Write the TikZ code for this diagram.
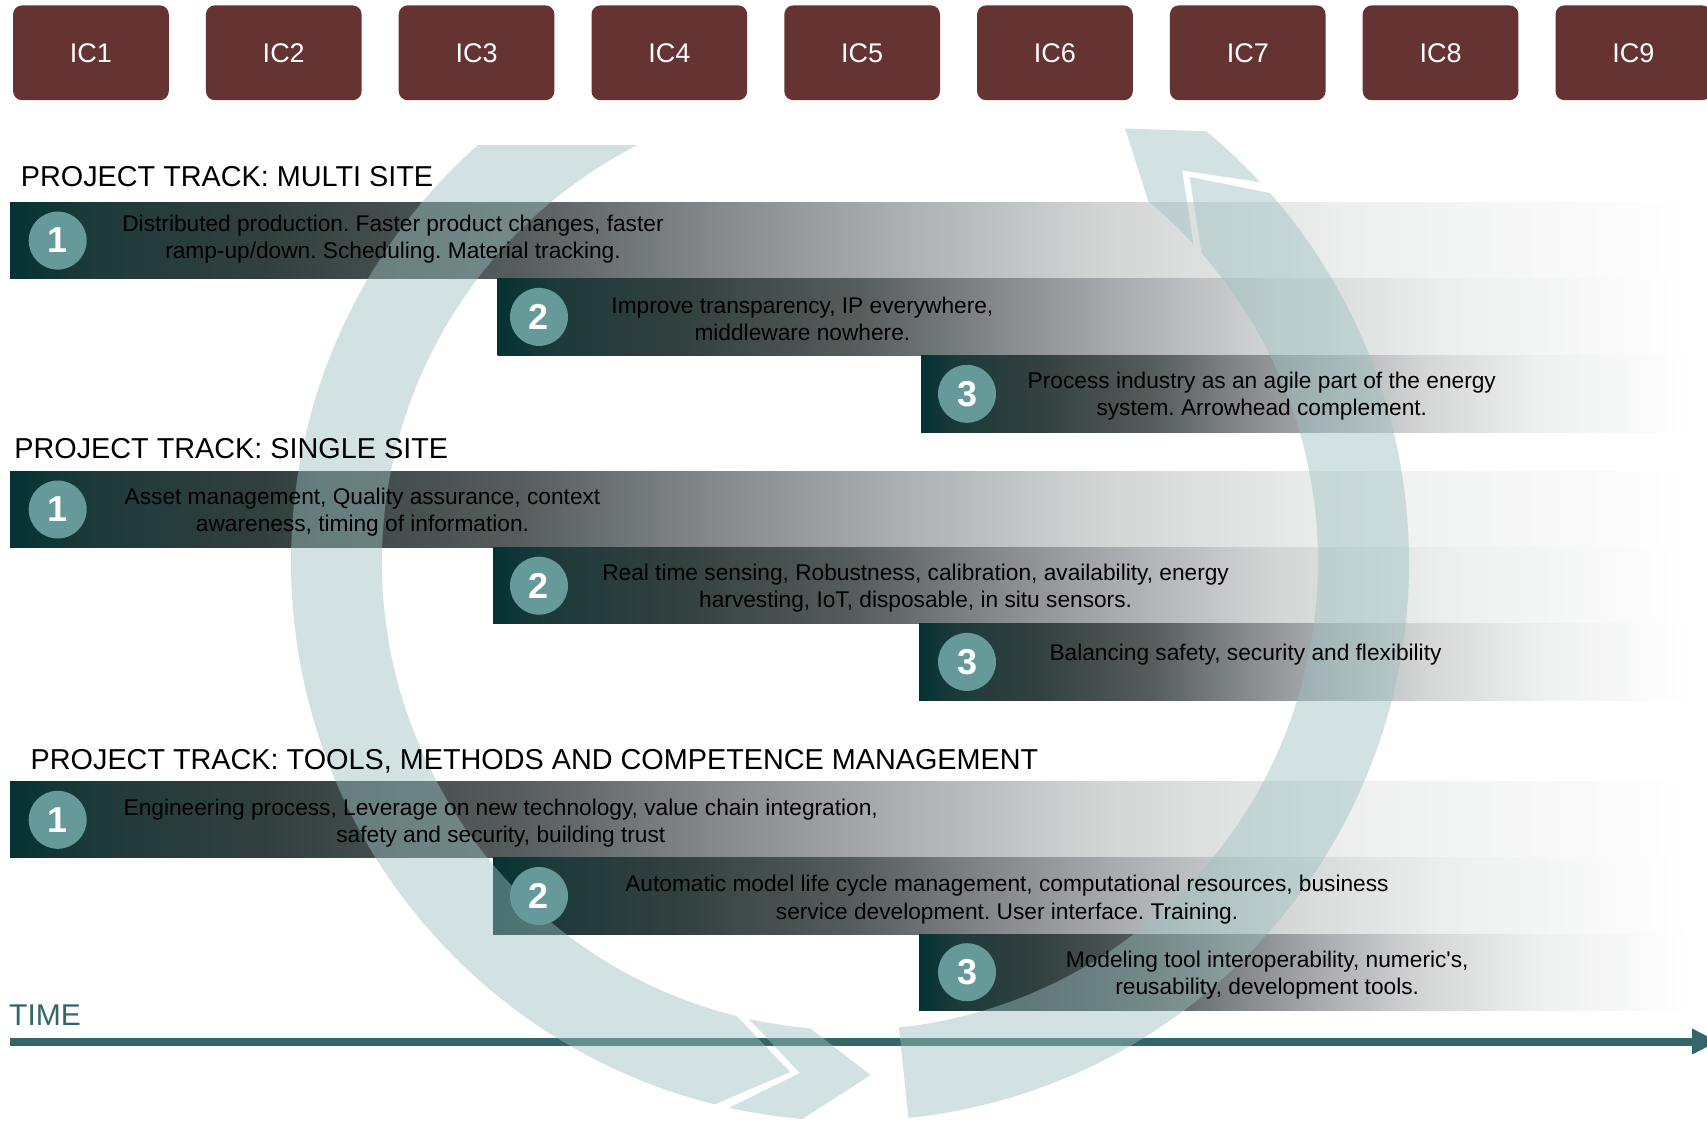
\documentclass[tikz,border=0pt]{standalone}
\usepackage{fontspec}
\setmainfont{Liberation Sans}
\usetikzlibrary{arrows.meta}
\frenchspacing
\definecolor{icred}{HTML}{663333}
\definecolor{numteal}{HTML}{669999}
\definecolor{timeteal}{HTML}{336666}
\definecolor{arcteal}{HTML}{9CC0C0}
\definecolor{gA}{HTML}{043232}
\definecolor{gB}{HTML}{1E3A3A}
\definecolor{gC}{HTML}{323F3F}
\definecolor{gD}{HTML}{555C5D}
\definecolor{gE}{HTML}{85898C}
\definecolor{gF}{HTML}{A8ACAE}
\definecolor{gG}{HTML}{D3D5D5}
\definecolor{gH}{HTML}{EEEFEF}
\pgfdeclarehorizontalshading{barshade}{100bp}{color(0bp)=(gA); color(25bp)=(gA); color(27.5bp)=(gB); color(32.5bp)=(gC); color(40bp)=(gD); color(46bp)=(gE); color(51bp)=(gF); color(57.5bp)=(gG); color(65bp)=(gH); color(75bp)=(white); color(100bp)=(white)}
\begin{document}
\begin{tikzpicture}[x=1pt,y=-1pt,
  icbox/.style={fill=icred, rounded corners=9pt, minimum width=155.7pt, minimum height=94.8pt, inner sep=0pt, text=white, font=\fontsize{27}{32}\selectfont},
  heading/.style={anchor=base west, inner sep=0pt, font=\fontsize{28.8}{34}\selectfont},
  bartext/.style={align=center, inner sep=0pt, font=\fontsize{22.7}{27.2}\selectfont},
  numcirc/.style={circle, fill=numteal, minimum size=58pt, inner sep=0pt, text=white, font=\fontsize{36}{40}\selectfont\bfseries},
  barfill/.style={shading=barshade},
  arcpiece/.style={fill=arcteal, fill opacity=0.45},
  timeline/.style={draw=timeteal, line width=8pt, -{Triangle[length=26pt,width=24pt]}}
]
\clip (0,0) rectangle (1707,1122);
\fill[white] (0,0) rectangle (1707,1122);

% IC boxes
\foreach \i/\cx in {1/90.95,2/283.75,3/476.55,4/669.35,5/862.15,6/1054.95,7/1247.75,8/1440.55,9/1633.35}{
  \node[icbox] (ic\i) at (\cx,52.8) {IC\i};
}

% bars
\shade[barfill] (10,202.5) rectangle (1690,278.7);
\shade[barfill] (497.5,278.7) rectangle (1690,355.2);
\shade[barfill] (921,355.5) rectangle (1690,432);
\shade[barfill] (10,471.4) rectangle (1690,547.6);
\shade[barfill] (493,547.6) rectangle (1690,623.8);
\shade[barfill] (919,623.8) rectangle (1690,700);
\shade[barfill] (10,781.7) rectangle (1690,857.9);
\shade[barfill] (493,857.9) rectangle (1690,934);
\shade[barfill] (919,934) rectangle (1690,1010.3);

% time line
\coordinate (t0) at (10,1041.5);
\coordinate (t1) at (1718,1041.5);
\draw[timeline] (t0) -- (t1);
\node[anchor=base west, inner sep=0pt, text=timeteal, font=\fontsize{30}{34}\selectfont] (time) at (9,1025.6) {TIME};

% circular arrows
\begin{scope}[shift={(850,562)}, yscale=-1]
  \fill[arcpiece] (131.76:559) arc[start angle=131.76, end angle=256, radius=559] -- (263.3:513.5) -- (256:468) arc[start angle=256, end angle=117, radius=468] -- cycle;
  \fill[arcpiece] (257.5:559) -- (264.4:513.5) -- (257.5:468) arc[start angle=257.5, end angle=265.1, radius=468] -- (272.3:513.5) -- (265.1:559) arc[start angle=265.1, end angle=257.5, radius=559] -- cycle;
  \fill[arcpiece] (-84:468) -- (-84:559) arc[start angle=-84, end angle=41.3, radius=559] -- (48.6:513.5) -- (41.3:468) arc[start angle=41.3, end angle=-84, radius=468] -- cycle;
  \fill[arcpiece] (42.8:559) -- (49.7:513.5) -- (42.8:468) arc[start angle=42.8, end angle=50.4, radius=468] -- (57.6:513.5) -- (50.4:559) arc[start angle=50.4, end angle=42.8, radius=559] -- cycle;
\end{scope}

% headings
\node[heading] (h1) at (20.7,186.4) {PROJECT TRACK: MULTI SITE};
\node[heading] (h2) at (14.2,458.8) {PROJECT TRACK: SINGLE SITE};
\node[heading] (h3) at (30.5,769.1) {PROJECT TRACK: TOOLS, METHODS AND COMPETENCE MANAGEMENT};

% number circles
\node[numcirc] (a1) at (57.7,240.6) {1};
\node[numcirc] (a2) at (539,316.9) {2};
\node[numcirc] (a3) at (967,393.8) {3};
\node[numcirc] (b1) at (57.7,509.5) {1};
\node[numcirc] (b2) at (539,585.7) {2};
\node[numcirc] (b3) at (967,661.9) {3};
\node[numcirc] (c1) at (57.7,819.8) {1};
\node[numcirc] (c2) at (539,896) {2};
\node[numcirc] (c3) at (967,972.2) {3};

% bar texts
\node[bartext] (ta1) at (393,239) {Distributed production. Faster product changes, faster\\ramp-up/down. Scheduling. Material tracking.};
\node[bartext] (ta2) at (802.4,318.5) {Improve transparency, IP everywhere,\\middleware nowhere.};
\node[bartext] (ta3) at (1261.8,396.3) {Process industry as an agile part of the energy\\system. Arrowhead complement.};
\node[bartext] (tb1) at (362.5,512.2) {Asset management, Quality assurance, context\\awareness, timing of information.};
\node[bartext] (tb2) at (915.6,588.4) {Real time sensing, Robustness, calibration, availability, energy\\harvesting, IoT, disposable, in situ sensors.};
\node[bartext] (tb3) at (1245.5,655) {Balancing safety, security and flexibility};
\node[bartext] (tc1) at (500.8,823) {Engineering process, Leverage on new technology, value chain integration,\\safety and security, building trust};
\node[bartext] (tc2) at (1007,899.7) {Automatic model life cycle management, computational resources, business\\service development. User interface. Training.};
\node[bartext] (tc3) at (1267.2,974.8) {Modeling tool interoperability, numeric\textquotesingle s,\\reusability, development tools.};
\end{tikzpicture}
\end{document}
